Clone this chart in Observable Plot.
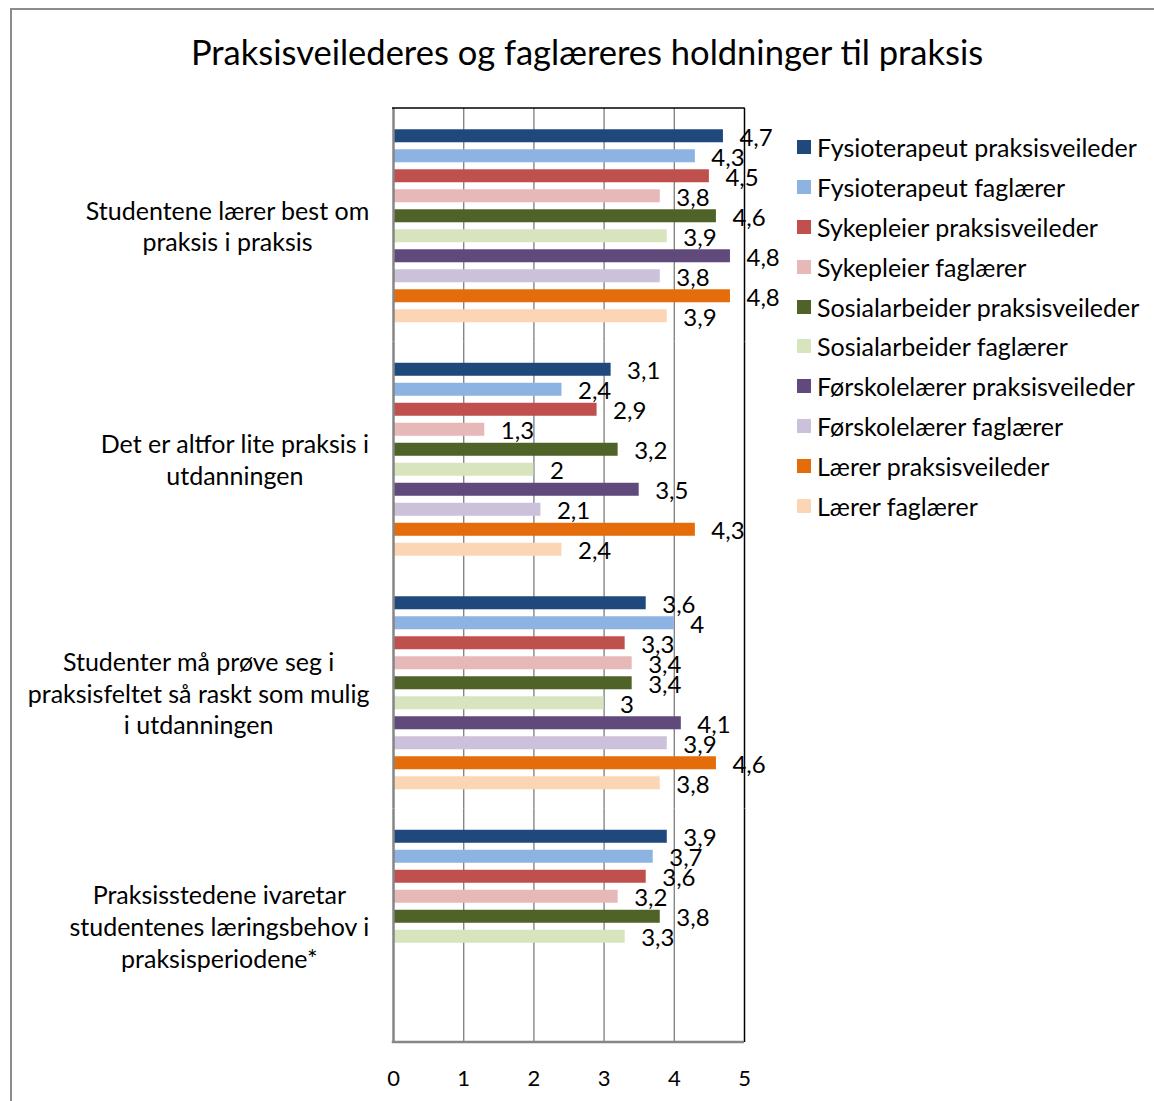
<!DOCTYPE html>
<html>
<head>
<meta charset="utf-8">
<script src="https://cdn.jsdelivr.net/npm/d3@7"></script>
<script src="https://cdn.jsdelivr.net/npm/@observablehq/plot@0.6"></script>
<style>
  html, body { margin: 0; padding: 0; background: #fff; }
  body { font-family: Lato, "Open Sans", sans-serif; }
  #wrap { position: relative; width: 1154px; height: 1101px; overflow: hidden; }
  #border { position: absolute; left: 10px; top: 8px; width: 2000px; height: 2000px;
            border-top: 2px solid #8c8c8c; border-left: 2px solid #8c8c8c; box-sizing: border-box; }
  #title { position: absolute; left: 0; width: 1174px; top: 31px; text-align: center;
           font-size: 34.5px; color: #000; white-space: nowrap; line-height: 1.2; }
  #chart { position: absolute; left: 0; top: 0; }
  #legend { position: absolute; left: 797px; top: 127px; }
  .row { height: 39.9px; display: flex; align-items: center; font-size: 25px; color: #000; white-space: nowrap; }
  .sw { width: 14px; height: 14px; margin-right: 6px; flex: none; }
</style>
</head>
<body>
<div id="wrap">
  <div id="border"></div>
  <div id="chart"></div>
  <div id="title"></div>
  <div id="legend"></div>
</div>
<script>
const titleText = "Praksisveilederes og faglæreres holdninger til praksis";

const categories = [
  "Studentene lærer best om praksis i praksis",
  "Det er altfor lite praksis i utdanningen",
  "Studenter må prøve seg i praksisfeltet så raskt som mulig i utdanningen",
  "Praksisstedene ivaretar studentenes læringsbehov i praksisperiodene*"
];
const categoryLabels = [
  "Studentene lærer best om\npraksis i praksis",
  "Det er altfor lite praksis i\nutdanningen",
  "Studenter må prøve seg i\npraksisfeltet så raskt som mulig\ni utdanningen",
  "Praksisstedene ivaretar\nstudentenes læringsbehov i\npraksisperiodene*"
];

const series = [
  "Fysioterapeut praksisveileder",
  "Fysioterapeut faglærer",
  "Sykepleier praksisveileder",
  "Sykepleier faglærer",
  "Sosialarbeider praksisveileder",
  "Sosialarbeider faglærer",
  "Førskolelærer praksisveileder",
  "Førskolelærer faglærer",
  "Lærer praksisveileder",
  "Lærer faglærer"
];
const colors = [
  "#1F497D", "#8DB3E2", "#C0504D", "#E6B9B8", "#4F6228",
  "#D7E4BD", "#604A7B", "#CCC1DA", "#E46C0A", "#FCD5B5"
];

const valuesCat1 = [4.7, 4.3, 4.5, 3.8, 4.6, 3.9, 4.8, 3.8, 4.8, 3.9];
const valuesCat2 = [3.1, 2.4, 2.9, 1.3, 3.2, 2.0, 3.5, 2.1, 4.3, 2.4];
const valuesCat3 = [3.6, 4.0, 3.3, 3.4, 3.4, 3.0, 4.1, 3.9, 4.6, 3.8];
const valuesCat4 = [3.9, 3.7, 3.6, 3.2, 3.8, 3.3];

const xTicks = [0, 1, 2, 3, 4, 5];

(function () {
  const FONT = "Lato, 'Open Sans', sans-serif";
  const catFontSize = 25;
  const allValues = [valuesCat1, valuesCat2, valuesCat3, valuesCat4];
  const rows = [];
  allValues.forEach((vals, ci) => {
    vals.forEach((v, si) => rows.push({category: categories[ci], series: series[si], value: v}));
  });
  const fmt = v => String(v).replace(".", ",");

  // Excel-style wrapped axis labels: block right-aligned next to the axis, lines centred in the block
  const ctx = document.createElement("canvas").getContext("2d");
  ctx.font = `${catFontSize}px Lato`;
  const blockWidth = categoryLabels.map(t => d3.max(t.split("\n"), l => ctx.measureText(l).width));
  const labelGap = 24;
  const categoryMarks = categories.map((c, i) =>
    Plot.text([c], {fy: d => d, text: () => categoryLabels[i], frameAnchor: "left",
      dx: -labelGap - blockWidth[i] / 2, textAnchor: "middle", fontSize: catFontSize,
      lineHeight: 1.28, fill: "#000"}));

  const chart = Plot.plot({
    width: 1154,
    height: 1101,
    marginLeft: 393,
    marginRight: 410,
    marginTop: 108,
    marginBottom: 59,
    style: {fontFamily: FONT, color: "#000", background: "transparent", fontSize: "22px"},
    x: {domain: [0, 5], ticks: xTicks, tickSize: 0, tickPadding: 28, label: null, tickFormat: d => String(d)},
    fy: {domain: categories, padding: 0, round: false, axis: null, label: null},
    y: {domain: series, paddingInner: 0.35, paddingOuter: 1.0125, align: 0.525, round: false, axis: null, label: null},
    color: {domain: series, range: colors},
    marks: [
      Plot.ruleX([1, 2, 3, 4], {stroke: "#868686", strokeWidth: 1.4}),
      Plot.barX(rows, {x: "value", y: "series", fy: "category", fill: "series"}),
      Plot.ruleX([0], {stroke: "#868686", strokeWidth: 2.5}),
      Plot.ruleX([5], {stroke: "#000", strokeWidth: 1.5}),
      Plot.text(rows, {x: "value", y: "series", fy: "category", text: d => fmt(d.value),
        dx: 16, dy: 2, textAnchor: "start", fontSize: 24, fill: "#000"}),
      ...categoryMarks
    ]
  });

  // frame top (black) and bottom (gray) edges, placed through the plot's scales
  const xs = chart.scale("x");
  const fys = chart.scale("fy");
  const xa = xs.apply(0), xb = xs.apply(5);
  const yTop = fys.apply(categories[0]);
  const yBottom = fys.apply(categories[categories.length - 1]) + fys.bandwidth;
  const svg = d3.select(chart);
  svg.append("line").attr("x1", xa - 1).attr("x2", xb + 0.75).attr("y1", yTop).attr("y2", yTop)
    .attr("stroke", "#000").attr("stroke-width", 1.5);
  svg.append("line").attr("x1", xa - 1.25).attr("x2", xb).attr("y1", yBottom).attr("y2", yBottom)
    .attr("stroke", "#868686").attr("stroke-width", 2.5);

  document.getElementById("chart").appendChild(chart);
  document.getElementById("title").textContent = titleText;

  const legend = d3.select("#legend");
  series.forEach((s, i) => {
    const r = legend.append("div").attr("class", "row");
    r.append("div").attr("class", "sw").style("background", colors[i]);
    r.append("span").text(s);
  });
})();
</script>
</body>
</html>
